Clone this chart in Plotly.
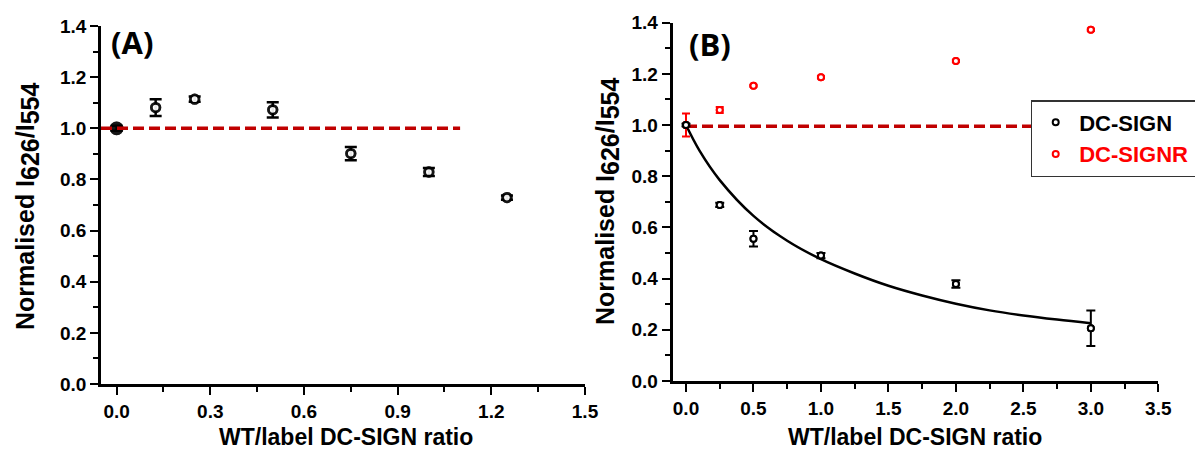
import plotly.graph_objects as go

# ---------------- data ----------------
# Panel A
A_x = [0.0, 0.125, 0.25, 0.5, 0.75, 1.0, 1.25]
A_y = [1.0, 1.081, 1.114, 1.072, 0.901, 0.829, 0.729]
A_err = [0.01, 0.033, 0.01, 0.03, 0.026, 0.016, 0.008]
A_ref_x = [-0.05, 1.1]
A_ref_y = [1.0, 1.0]

# Panel B
B_x = [0.0, 0.25, 0.5, 1.0, 2.0, 3.0]
B_sign_y = [1.0, 0.688, 0.556, 0.49, 0.379, 0.206]
B_sign_err = [0.005, 0.008, 0.03, 0.01, 0.015, 0.069]
B_signr_y = [1.0, 1.059, 1.154, 1.187, 1.25, 1.372]
B_signr_err = [0.045, 0.012, 0.004, 0.004, 0.004, 0.004]
B_fit_x = [0.0, 0.1, 0.25, 0.5, 0.75, 1.0, 1.25, 1.5, 1.75, 2.0, 2.25, 2.5, 2.75, 3.0]
B_fit_y = [1.0, 0.90, 0.785, 0.645, 0.548, 0.476, 0.42, 0.372, 0.334, 0.302, 0.276, 0.256, 0.24, 0.226]
B_ref_x = [0.0, 2.66]
B_ref_y = [0.995, 0.995]

A_xticks = [0.0, 0.3, 0.6, 0.9, 1.2, 1.5]
B_xticks = [0.0, 0.5, 1.0, 1.5, 2.0, 2.5, 3.0, 3.5]
yticks = [0.0, 0.2, 0.4, 0.6, 0.8, 1.0, 1.2, 1.4]

W, H = 1195, 450
FONT = "Liberation Sans, Arial, sans-serif"
DRED = "#C00000"
RED = "#FF0000"

fig = go.Figure()

# ---- Panel A ----
A_sizes = [11] + [8.5] * (len(A_x) - 1)
A_fill = ["black"] + ["white"] * (len(A_x) - 1)
fig.add_trace(go.Scatter(
    x=A_x, y=A_y, mode="markers", xaxis="x", yaxis="y", showlegend=False,
    error_y=dict(type="data", array=A_err, color="black", thickness=2.5, width=6),
    marker=dict(symbol="circle", size=A_sizes, color=A_fill, line=dict(color="black", width=2.8)),
))
fig.add_trace(go.Scatter(
    x=A_x, y=A_y, mode="markers", xaxis="x", yaxis="y", showlegend=False, hoverinfo="skip",
    marker=dict(symbol="circle", size=A_sizes, color=A_fill, line=dict(color="black", width=2.8)),
))
fig.add_trace(go.Scatter(
    x=A_ref_x, y=A_ref_y, mode="lines", xaxis="x", yaxis="y", showlegend=False,
    line=dict(color=DRED, width=3.5, dash="11px,5px"),
))

# ---- Panel B ----
fig.add_trace(go.Scatter(
    x=B_fit_x, y=B_fit_y, mode="lines", xaxis="x2", yaxis="y2", showlegend=False,
    line=dict(color="black", width=2.5, shape="spline", smoothing=1.0),
))
fig.add_trace(go.Scatter(
    x=B_ref_x, y=B_ref_y, mode="lines", xaxis="x2", yaxis="y2", showlegend=False,
    line=dict(color=DRED, width=3.5, dash="11px,5px"),
))
fig.add_trace(go.Scatter(
    x=B_x, y=B_signr_y, mode="markers", xaxis="x2", yaxis="y2",
    name="<span style='color:#FF0000'>DC-SIGNR</span>&nbsp;&nbsp;&nbsp;",
    error_y=dict(type="data", array=B_signr_err, color=RED, thickness=2, width=4),
    marker=dict(symbol="circle", size=6, color="white", line=dict(width=2, color=RED)),
))
fig.add_trace(go.Scatter(
    x=B_x, y=B_signr_y, mode="markers", xaxis="x2", yaxis="y2", showlegend=False, hoverinfo="skip",
    marker=dict(symbol="circle", size=6, color="white", line=dict(width=2, color=RED)),
))
fig.add_trace(go.Scatter(
    x=B_x, y=B_sign_y, mode="markers", xaxis="x2", yaxis="y2",
    name="DC-SIGN",
    error_y=dict(type="data", array=B_sign_err, color="black", thickness=2, width=4.5),
    marker=dict(symbol="circle", size=6, color="white", line=dict(width=2, color="black")),
))
fig.add_trace(go.Scatter(
    x=B_x, y=B_sign_y, mode="markers", xaxis="x2", yaxis="y2", showlegend=False, hoverinfo="skip",
    marker=dict(symbol="circle", size=6, color="white", line=dict(width=2, color="black")),
))

tickfont = dict(family=FONT, size=19, color="black", weight="bold")
axis_common = dict(
    showline=True, linecolor="black", linewidth=2.5, showgrid=False, zeroline=False,
    ticks="outside", ticklen=8, tickwidth=2, tickcolor="black",
    tickfont=tickfont, mirror=False,
)


def bt(vals):
    return ["<b>%.1f</b>" % v for v in vals]


minor_kw = dict(ticklen=5, tickwidth=2, tickcolor="black", ticks="outside", tick0=0)

fig.update_layout(
    width=W, height=H,
    margin=dict(l=0, r=0, t=0, b=0, autoexpand=False),
    paper_bgcolor="white", plot_bgcolor="white",
    font=dict(family=FONT, color="black"),
    xaxis=dict(domain=[101 / W, 585 / W], range=[-0.05, 1.5], tickvals=A_xticks, ticktext=bt(A_xticks),
               anchor="y", minor=dict(dtick=0.15, **minor_kw), **axis_common),
    yaxis=dict(domain=[1 - 384 / H, 1 - 26 / H], range=[0, 1.4], tickvals=yticks, ticktext=bt(yticks),
               anchor="x", minor=dict(dtick=0.1, **minor_kw), **axis_common),
    xaxis2=dict(domain=[672.5 / W, 1158.3 / W], range=[-0.1, 3.5], tickvals=B_xticks, ticktext=bt(B_xticks),
                anchor="y2", minor=dict(dtick=0.25, **minor_kw), **axis_common),
    yaxis2=dict(domain=[1 - 381 / H, 1 - 22.7 / H], range=[0, 1.4], tickvals=yticks, ticktext=bt(yticks),
                anchor="x2", minor=dict(dtick=0.1, **minor_kw), **axis_common),
    legend=dict(x=1030.7 / W, y=1 - 100 / H, xanchor="left", yanchor="top",
                bgcolor="white", bordercolor="#333333", borderwidth=1.5,
                font=dict(family=FONT, size=22, color="black", weight="bold"),
                traceorder="reversed", itemwidth=37),
)

ytitle = ("<b>Normalised I<sub><span style='font-size:25px'>626</span></sub>/"
          "I<sub><span style='font-size:25px'>554</span></sub></b>")
title_font = dict(family=FONT, size=25, color="black", weight="bold")
xt_font = dict(family=FONT, size=23, color="black", weight="bold")
lab_font = dict(family="Open Sans", size=31, color="black", weight="bold")
annots = [
    dict(text=ytitle, x=28 / W, y=1 - 207 / H, textangle=-90, font=title_font),
    dict(text=ytitle, x=607 / W, y=1 - 202 / H, textangle=-90, font=title_font),
    dict(text="<b>WT/label DC-SIGN ratio</b>", x=346 / W, y=1 - 437 / H, font=xt_font),
    dict(text="<b>WT/label DC-SIGN ratio</b>", x=915 / W, y=1 - 437 / H, font=xt_font),
    dict(text="<b>(A)</b>", x=132 / W, y=1 - 42 / H, font=lab_font),
    dict(text="<b>(B)</b>", x=710 / W, y=1 - 44 / H, font=lab_font),
]
for a in annots:
    a.update(xref="paper", yref="paper", showarrow=False, xanchor="center", yanchor="middle")
fig.update_layout(annotations=annots)

fig.write_html("out.html")
